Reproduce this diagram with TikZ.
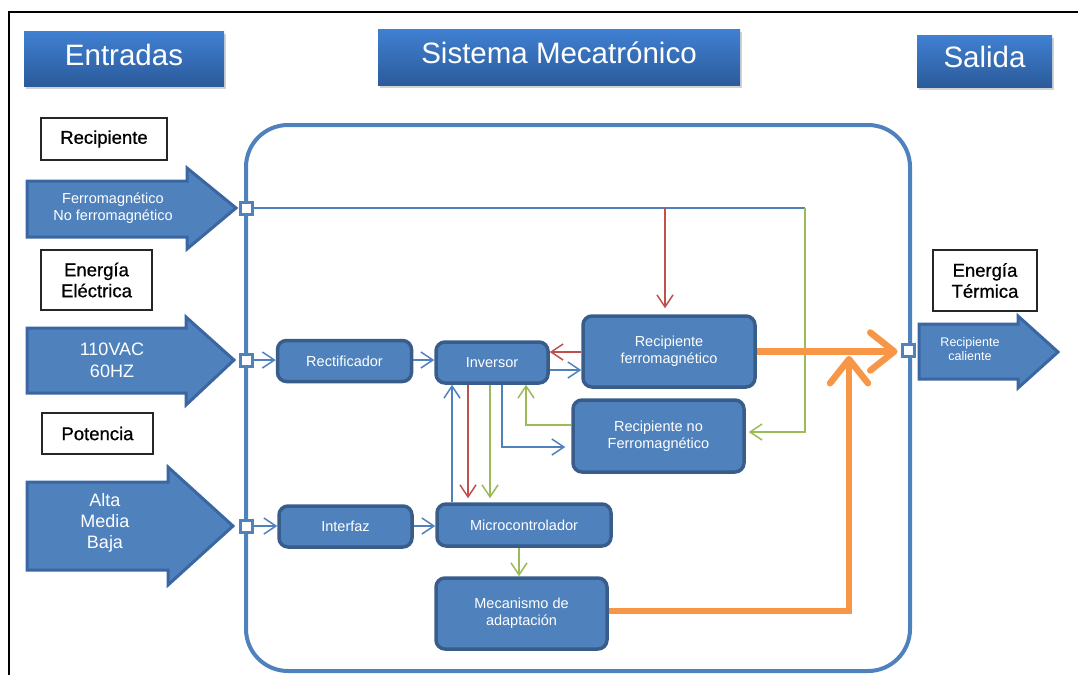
\documentclass[tikz,border=0pt]{standalone}
\usepackage{fontspec}
\setmainfont{Liberation Sans}
\newfontfamily\tagfont[FakeBold=0.7]{Liberation Sans}
\usetikzlibrary{arrows.meta,shadows}

\definecolor{blk}{HTML}{4F81BD}
\definecolor{blkdark}{HTML}{385D8A}
\definecolor{arrowedge}{HTML}{3A66A2}
\definecolor{lnred}{HTML}{C0504D}
\definecolor{lngreen}{HTML}{9BBB59}
\definecolor{lnorange}{HTML}{F79646}
\definecolor{titletop}{HTML}{4080D2}
\definecolor{titlebot}{HTML}{2B5B9B}

\tikzset{
  block/.style={draw=blkdark, fill=blk, line width=3.5pt, rounded corners=9pt,
    text=white, font=\fontsize{14.5}{17}\selectfont, align=center, inner sep=0pt},
  titlebox/.style={top color=titletop, bottom color=titlebot, draw=none,
    text=white, font=\fontsize{29.5}{32}\selectfont, inner sep=0pt, text depth=8pt,
    drop shadow={shadow xshift=2pt, shadow yshift=-3pt, opacity=0.35}},
  tag/.style={draw=black!85, line width=1.4pt, fill=white,
    font=\tagfont\fontsize{18.5}{21}\selectfont, align=center, inner sep=0pt,
    drop shadow={shadow xshift=1.2pt, shadow yshift=-1.2pt, opacity=0.45}},
  port/.style={draw=blk, fill=white, line width=3pt, minimum size=12pt, inner sep=0pt},
  bigarrow/.style={fill=blk, draw=arrowedge, line width=3pt, line join=miter},
  arrowtext/.style={text=white, align=center, inner sep=0pt},
  tipa/.style={-{Straight Barb[length=12pt,width=16pt]}},
  bl/.style={draw=blk, line width=1.5pt},
  rd/.style={draw=lnred, line width=1.5pt},
  gr/.style={draw=lngreen, line width=1.5pt},
  org/.style={draw=lnorange, line width=6.5pt,
    -{Straight Barb[length=24pt,width=38pt,round]}},
}

\begin{document}
\begin{tikzpicture}[x=1pt,y=-1pt]
\useasboundingbox (0,0) rectangle (1078,675);

% outer frame
\draw[line width=1.3pt] (9,675) -- (9,12) -- (1078,12);

% headings
\node[titlebox, minimum width=200, minimum height=55] (tin) at (124,58.5) {Entradas};
\node[titlebox, minimum width=362, minimum height=56] (tsys) at (559,57) {Sistema Mecatrónico};
\node[titlebox, minimum width=135, minimum height=52] (tout) at (984.5,61) {Salida};

% input / output tags
\node[tag, minimum width=126, minimum height=42] (lrec) at (104,139) {Recipiente};
\node[tag, minimum width=111, minimum height=60] (lele) at (96.5,280) {Energía\\Eléctrica};
\node[tag, minimum width=111, minimum height=41] (lpot) at (97.5,433.5) {Potencia};
\node[tag, minimum width=104, minimum height=61] (lter) at (985,280.5) {Energía\\Térmica};

% input block arrows
\draw[bigarrow] (27,181) -- (187,181) -- (187,168) -- (236,208) -- (187,249) -- (187,237) -- (27,237) -- cycle;
\node[arrowtext, font=\fontsize{14.5}{16.5}\selectfont] (a1) at (113,208) {Ferromagnético\\No ferromagnético};

\draw[bigarrow] (27,328) -- (186,328) -- (186,317) -- (234,360) -- (186,405) -- (186,393) -- (27,393) -- cycle;
\node[arrowtext, font=\fontsize{18}{22}\selectfont] (a2) at (112,360) {110VAC\\60HZ};

\draw[bigarrow] (27,482) -- (168,482) -- (168,467) -- (233,526) -- (168,585) -- (168,570) -- (27,570) -- cycle;
\node[arrowtext, font=\fontsize{18}{21}\selectfont] (a3) at (105,523) {Alta\\Media\\Baja};

% output block arrow
\draw[bigarrow] (919,324) -- (1018,324) -- (1018,316) -- (1058,352) -- (1018,388) -- (1018,379) -- (919,379) -- cycle;
\node[arrowtext, font=\fontsize{12.5}{14.5}\selectfont] (a4) at (970,349) {Recipiente\\caliente};

% system boundary
\node[draw=blk, line width=4pt, rounded corners=42pt, minimum width=664, minimum height=546, inner sep=0pt] (sys) at (578,398) {};

% ports on the boundary
\node[port] (p1) at (246,208) {};
\node[port] (p2) at (246,360) {};
\node[port] (p3) at (246,526) {};
\node[port] (p4) at (908,350) {};

% internal blocks
\node[block, minimum width=134, minimum height=41] (rect) at (344.5,361) {Rectificador};
\node[block, minimum width=112, minimum height=41] (inv) at (492,362.5) {Inversor};
\node[block, minimum width=172, minimum height=71] (rf) at (669,351.5) {Recipiente\\ferromagnético};
\node[block, minimum width=171, minimum height=72] (rnf) at (658.5,436) {Recipiente no\\Ferromagnético};
\node[block, minimum width=133, minimum height=41] (intf) at (345.5,526.5) {Interfaz};
\node[block, minimum width=174, minimum height=42] (mic) at (524,525) {Microcontrolador};
\node[block, minimum width=171, minimum height=71] (mec) at (521.5,613.5) {Mecanismo de\\adaptación};

% vessel detection line
\coordinate (jr) at (665,208);
\coordinate (jt) at (805,208);
\coordinate (jb) at (805,432);
\draw[bl] (p1.east) -- (jt);
\draw[rd, tipa, shorten >=6pt] (jr) -- (jr |- rf.north);
\draw[gr, tipa, shorten >=3pt] (jt) -- (jb) -- (jb -| rnf.east);

% power path
\draw[bl, tipa] (p2.east) -- (p2.east -| rect.west);
\draw[bl, tipa] (rect.east |- 0,360) -- (inv.west |- 0,360);
\draw[rd, tipa] (rf.west |- 0,352) -- (inv.east |- 0,352);
\draw[bl, tipa] (inv.east |- 0,370) -- (rf.west |- 0,370);
\draw[bl, tipa, shorten >=6pt] (inv.south -| 502,0) |- (rnf.west |- 0,447);
\draw[gr, tipa] (rnf.west |- 0,425) -| (inv.south -| 526,0);

% control path
\draw[bl, tipa] (mic.north -| 452,0) -- (inv.south -| 452,0);
\draw[rd, tipa] (inv.south -| 468,0) -- ([yshift=4pt]mic.north -| 468,0);
\draw[gr, tipa] (inv.south -| 490,0) -- ([yshift=4pt]mic.north -| 490,0);
\draw[gr, tipa] (mic.south -| 519,0) -- (mec.north -| 519,0);
\draw[bl, tipa] (p3.east) -- (p3.east -| intf.west);
\draw[bl, tipa] (intf.east |- 0,526) -- (mic.west |- 0,526);

% heat output
\coordinate (oj) at (849,356);
\draw[org, shorten >=3pt] (rf.east) -- (rf.east -| p4.west);
\draw[org] (mec.east |- 0,611) -| (oj);
\end{tikzpicture}
\end{document}
